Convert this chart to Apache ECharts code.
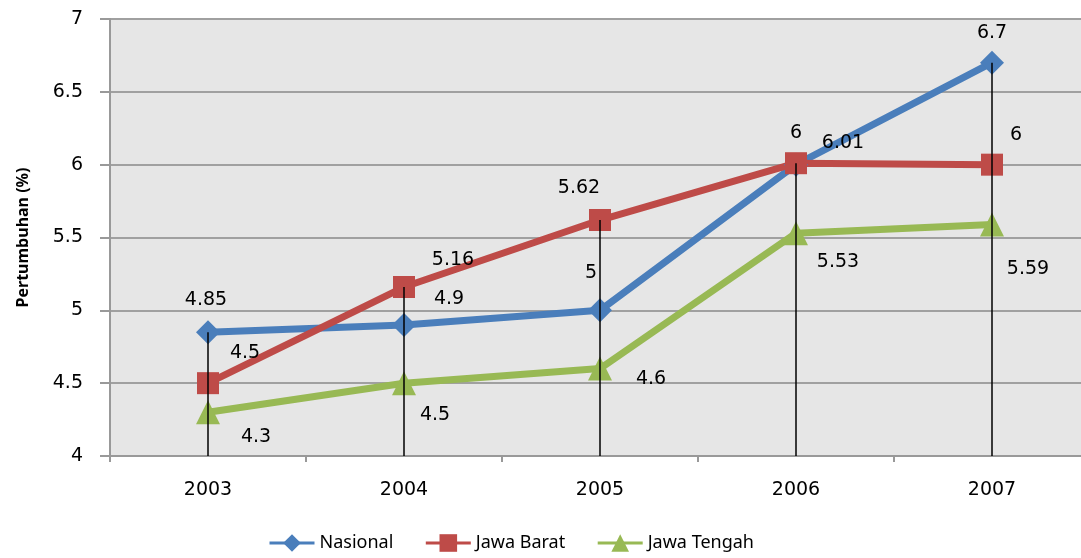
<!DOCTYPE html>
<html><head><meta charset="utf-8">
<script src="https://cdn.jsdelivr.net/npm/echarts@6/dist/echarts.min.js"></script>
<style>html,body{margin:0;padding:0;background:#fff}#c{width:1081px;height:558px}</style>
</head><body><div id="c"></div>
<script>
const years = ['2003','2004','2005','2006','2007'];
const nasional = [4.85, 4.9, 5, 6, 6.7];
const jawaBarat = [4.5, 5.16, 5.62, 6.01, 6];
const jawaTengah = [4.3, 4.5, 4.6, 5.53, 5.59];
const yTicks = [4, 4.5, 5, 5.5, 6, 6.5, 7];

// label offsets (pixels from the point) per series
const offN = [[-2,-32],[45,-26],[-9,-37],[0,-32],[0,-30]];
const offB = [[37,-30],[49,-27],[-21,-32],[47,-20],[24,-30]];
const offT = [[48,25],[31,32],[51,10],[42,29],[36,45]];

const FONT = '"DejaVu Sans", sans-serif';
const LFONT = '"Noto Sans", "Open Sans", sans-serif';
const dropTop = years.map((y,i) => Math.max(nasional[i], jawaBarat[i], jawaTengah[i]));

function mk(vals, offs) {
  return vals.map((v,i) => ({value: v, label: {offset: offs[i]}}));
}
function lineSeries(name, vals, offs, color, symbol, size) {
  return {
    name, type: 'line', data: mk(vals, offs),
    symbol, symbolSize: size,
    lineStyle: {color, width: 7},
    itemStyle: {color},
    z: 2,
    label: {show: true, position: 'inside', align: 'center', verticalAlign: 'middle',
      color: '#000', fontSize: 19, fontFamily: FONT,
      formatter: p => String(p.value)}
  };
}

const chart = echarts.init(document.getElementById('c'));
chart.setOption({
  animation: false,
  backgroundColor: '#fff',
  grid: {left: 110, right: -9, top: 19, bottom: 102, show: true, backgroundColor: '#e6e6e6', borderWidth: 0,
    containLabel: false, outerBoundsMode: 'none'},
  xAxis: {
    type: 'category', data: years, boundaryGap: true,
    axisLine: {lineStyle: {color: '#999', width: 2}},
    axisTick: {show: true, length: 6, lineStyle: {color: '#999', width: 2}},
    axisLabel: {color: '#000', fontSize: 19, fontFamily: FONT, margin: 25}
  },
  yAxis: {
    type: 'value', min: 4, max: 7, interval: 0.5,
    name: 'Pertumbuhan (%)', nameLocation: 'middle', nameGap: 79, nameRotate: 90,
    nameTextStyle: {color: '#000', fontSize: 16, fontWeight: 'bold', fontFamily: LFONT},
    axisLine: {show: true, lineStyle: {color: '#999', width: 2}},
    axisTick: {show: true, length: 10, inside: false, lineStyle: {color: '#999', width: 2}},
    axisLabel: {color: '#000', fontSize: 19, fontFamily: FONT, margin: 27,
      formatter: v => yTicks.includes(v) ? String(v) : ''},
    splitLine: {show: true, lineStyle: {color: '#a0a0a0', width: 2}}
  },
  legend: {
    top: 534, left: 268, padding: 0, itemWidth: 45, itemHeight: 22, itemGap: 31,
    lineStyle: {width: 3},
    textStyle: {color: '#000', fontSize: 18, fontFamily: LFONT},
    data: ['Nasional','Jawa Barat','Jawa Tengah']
  },
  series: [
    lineSeries('Nasional', nasional, offN, '#4a7ebb', 'diamond', 24),
    lineSeries('Jawa Barat', jawaBarat, offB, '#be4b48', 'rect', 22),
    lineSeries('Jawa Tengah', jawaTengah, offT, '#98b954', 'triangle', 24),
    {
      type: 'custom', z: 5, silent: true,
      data: dropTop.map((v,i) => [i, v]),
      renderItem: (params, api) => {
        const p1 = api.coord([api.value(0), api.value(1)]);
        const p0 = api.coord([api.value(0), 4]);
        return {type: 'line', shape: {x1: p1[0], y1: p1[1], x2: p0[0], y2: p0[1]},
          style: {stroke: '#000', lineWidth: 1.5}};
      }
    }
  ]
});
</script>
</body></html>
